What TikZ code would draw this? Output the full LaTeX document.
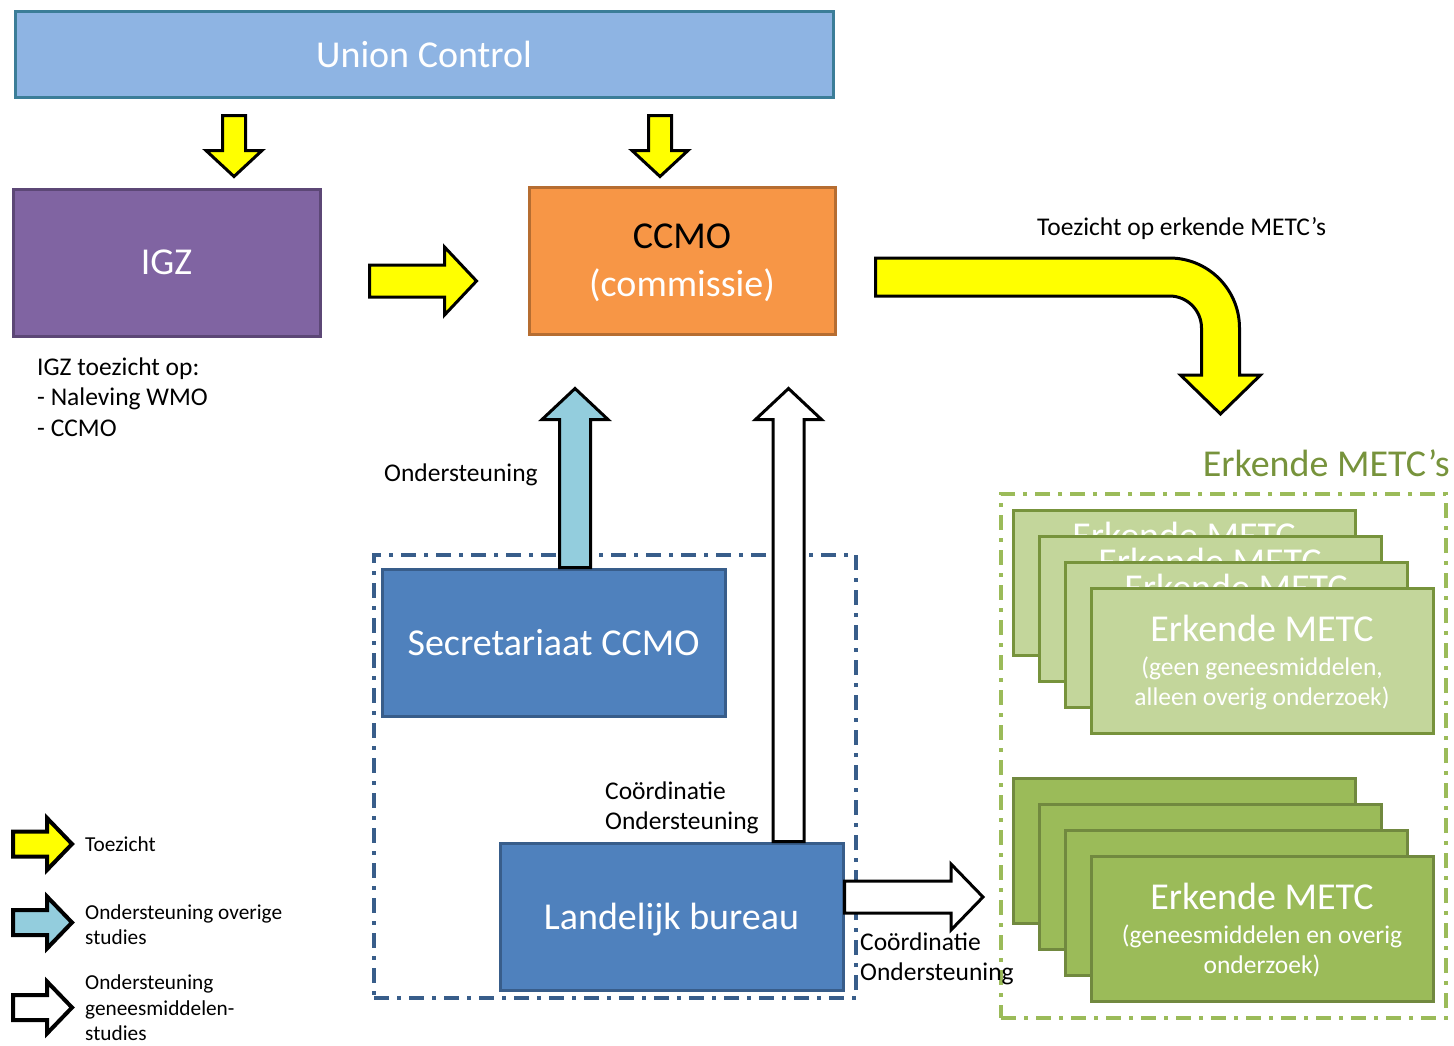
\documentclass[tikz,border=0pt]{standalone}
\usepackage{fontspec}
\setmainfont{Carlito}
\usetikzlibrary{calc}
\definecolor{unionblue}{HTML}{8EB4E3}
\definecolor{unionedge}{HTML}{3B7D98}
\definecolor{igzpurple}{HTML}{8064A2}
\definecolor{igzedge}{HTML}{5C4776}
\definecolor{ccmoorange}{HTML}{F79646}
\definecolor{ccmoedge}{HTML}{B66D31}
\definecolor{bureaublue}{HTML}{4F81BD}
\definecolor{bureauedge}{HTML}{385D8A}
\definecolor{arrowyellow}{HTML}{FFFF00}
\definecolor{arrowcyan}{HTML}{93CDDD}
\definecolor{metclight}{HTML}{C3D69B}
\definecolor{metcdark}{HTML}{9BBB59}
\definecolor{metcedge}{HTML}{77933C}
\definecolor{metcedgedark}{HTML}{71893F}
\newcommand{\bigfont}{\fontsize{38}{48}\selectfont}
\newcommand{\midfont}{\fontsize{25.5}{30.5}\selectfont}
\newcommand{\legfont}{\fontsize{21.3}{25.5}\selectfont}
% fat outlined arrow: style, from, to, half shaft, half head, head length
\newcommand{\blockarrow}[6]{%
  \draw[#1] let \p1=#2, \p2=#3,
      \n1={atan2(\y2-\y1,\x2-\x1)}, \n2={veclen(\x2-\x1,\y2-\y1)} in
    [shift={(\p1)}, rotate=\n1]
    (0,#4) -- ({\n2-#6},#4) -- ({\n2-#6},#5) -- (\n2,0)
    -- ({\n2-#6},-#5) -- ({\n2-#6},-#4) -- (0,-#4) -- cycle;
}
% light METC card with its title peeking out at the top
\newcommand{\lightcard}[3]{%
  \node[card,fill=metclight,draw=metcedge] (#1) at (#2,#3) {};
  \node[cardtitle] at ($(#1.north)+(0,27)$) {Erkende METC};
}
\tikzset{
  box/.style={draw, line width=3pt, minimum width=343pt, minimum height=147pt,
    inner sep=0pt, text=white, text depth=0pt, font=\bigfont},
  group/.style={draw, line width=4pt, dash pattern=on 15pt off 8pt on 4pt off 8pt,
    inner sep=0pt},
  card/.style={draw, line width=3pt, minimum width=342pt, minimum height=145pt,
    inner sep=0pt, text=white, text depth=0pt},
  cardtitle/.style={text=white, font=\bigfont, inner sep=0pt},
  toezicht/.style={draw=black, fill=arrowyellow, line width=3pt},
  steun/.style={draw=black, fill=arrowcyan, line width=3pt},
  geneesm/.style={draw=black, fill=white, line width=3pt},
  lbl/.style={font=\midfont, align=left, inner sep=0pt, anchor=west},
  legtext/.style={font=\legfont, align=left, inner sep=0pt, anchor=west},
}

\begin{document}
\begin{tikzpicture}[x=1pt,y=-1pt,font=\midfont]
  \useasboundingbox (0,0) rectangle (1454,1045);

  % dash-dot groups
  \node[group, draw=bureauedge, minimum width=482pt, minimum height=443pt] (ccmogroup) at (615,776.5) {};
  \node[group, draw=metcdark, minimum width=445pt, minimum height=524pt] (metcs) at (1223.5,756) {};
  \node[anchor=east, inner sep=0pt, font=\bigfont, text=metcedge] (metctitle) at (1450,463) {Erkende METC’s};

  % METC stacks
  \lightcard{l1}{1184}{582.5}
  \lightcard{l2}{1210}{608.5}
  \lightcard{l3}{1236}{634.5}
  \node[card, fill=metclight, draw=metcedge, align=center, font=\midfont] (l4) at (1262,660.5)
    {{\bigfont Erkende METC}\\[3pt](geen geneesmiddelen,\\alleen overig onderzoek)};
  \node[card, fill=metcdark, draw=metcedgedark] (d1) at (1184,850.5) {};
  \node[card, fill=metcdark, draw=metcedgedark] (d2) at (1210,876.5) {};
  \node[card, fill=metcdark, draw=metcedgedark] (d3) at (1236,902.5) {};
  \node[card, fill=metcdark, draw=metcedgedark, align=center, font=\midfont] (d4) at (1262,928.5)
    {{\bigfont Erkende METC}\\[3pt](geneesmiddelen en overig\\onderzoek)};

  % organisations
  \node[box, fill=unionblue, draw=unionedge, minimum width=818pt, minimum height=86pt] (union) at (424,54) {Union Control};
  \node[box, fill=igzpurple, draw=igzedge, minimum width=307pt] (igz) at (166.5,262.5) {IGZ};
  \node[box, fill=ccmoorange, draw=ccmoedge, minimum width=306pt, align=center] (ccmo) at (682,260.5)
    {\textcolor{black}{CCMO}\\(commissie)};
  \node[box, fill=bureaublue, draw=bureauedge] (sec) at (553.5,642.5) {Secretariaat CCMO};
  \node[box, fill=bureaublue, draw=bureauedge] (bureau) at (671.5,916.5) {Landelijk bureau};

  % labels
  \node[lbl] (igznote) at (37,397) {IGZ toezicht op:\\- Naleving WMO\\- CCMO};
  \node[lbl] (steunlbl) at (384,475) {Ondersteuning};
  \node[lbl] (coordup) at (605,808) {Coördinatie\\Ondersteuning};
  \node[lbl] (coordright) at (860,959) {Coördinatie\\Ondersteuning};
  \node[lbl] (toezichtlbl) at (1037,229) {Toezicht op erkende METC’s};

  % arrows
  \blockarrow{toezicht}{($(igz.north)+(67.5,-72)$)}{($(igz.north)+(67.5,-11)$)}{11.5}{28}{26}
  \blockarrow{toezicht}{($(ccmo.north)+(-22,-70)$)}{($(ccmo.north)+(-22,-9)$)}{11.5}{28}{26}
  \blockarrow{toezicht}{($(igz.east)+(48,18.5)$)}{($(ccmo.west)+(-51,20.5)$)}{16}{34}{32}
  \blockarrow{steun}{($(sec.north)+(21.5,0)$)}{($(sec.north)+(21.5,-179)$)}{15.5}{33}{31}
  \blockarrow{geneesm}{($(bureau.north)+(117,0)$)}{($(bureau.north)+(117,-453)$)}{15.5}{33}{31}
  \blockarrow{geneesm}{($(bureau.east)+(0,-19.5)$)}{($(metcs.west)+(-16,141)$)}{16}{33}{32}
  \begin{scope}[shift={($(ccmo.east)+(39,16.5)$)}]
    \draw[toezicht] (0,-19) -- (294,-19) arc (-90:0:70) -- (364,98) -- (385,98) -- (345,137)
      -- (305,98) -- (326,98) -- (326,51) arc (0:-90:32) -- (0,19) -- cycle;
  \end{scope}

  % legend
  \node[legtext] (legtz) at (85,844) {Toezicht};
  \node[legtext] (legsteun) at (85,924.5) {Ondersteuning overige\\studies};
  \node[legtext] (leggm) at (85,1008) {Ondersteuning\\geneesmiddelen-\\studies};
  \blockarrow{toezicht,line width=4pt}{($(legtz.west)+(-72,0)$)}{($(legtz.west)+(-13,0)$)}{12.5}{26}{25}
  \blockarrow{steun,line width=4pt}{($(legsteun.west)+(-72,-2)$)}{($(legsteun.west)+(-13,-2)$)}{12.5}{26}{25}
  \blockarrow{geneesm,line width=4pt}{($(leggm.west)+(-72,-0.5)$)}{($(leggm.west)+(-13,-0.5)$)}{12.5}{26}{25}
\end{tikzpicture}
\end{document}
